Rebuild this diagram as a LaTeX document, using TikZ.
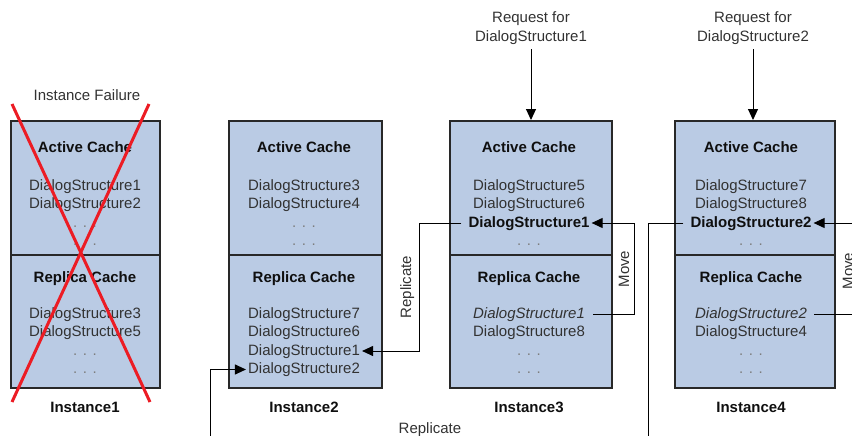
\documentclass[tikz,border=0pt]{standalone}
\usepackage{fontspec}
\setmainfont{Liberation Sans}
\usetikzlibrary{arrows.meta}

\definecolor{cachefill}{RGB}{186,203,228}
\definecolor{boxline}{RGB}{40,40,40}
\definecolor{entrytext}{RGB}{50,50,50}
\definecolor{headtext}{RGB}{15,15,15}
\definecolor{dotgray}{RGB}{125,125,125}
\definecolor{failred}{RGB}{236,28,36}

\newcommand{\entryfont}{\fontsize{15}{18}\selectfont}
\newcommand{\headfont}{\fontsize{15}{18}\selectfont\bfseries}

\tikzset{
  cachebox/.style={draw=boxline, line width=2pt, fill=cachefill, inner sep=0pt,
                   minimum height=267pt},
  divider/.style={draw=boxline, line width=1.5pt},
  entry/.style={font=\entryfont, text=entrytext, anchor=base, inner sep=2pt,
                text height=11pt, text depth=3pt},
  head/.style={entry, font=\headfont, text=headtext},
  dots/.style={entry, text=dotgray},
  plain/.style={entry, text=entrytext},
  link/.style={line width=1pt, draw=black},
  arr/.style={link, -{Triangle[length=11pt,width=10pt]}},
  cross/.style={draw=failred, line width=3pt},
}

\begin{document}
\begin{tikzpicture}[x=1pt, y=-1pt]
\useasboundingbox (0,0) rectangle (852,436);
\begin{scope}
\clip (0,0) rectangle (852,436);

% ---- cache boxes with their active / replica divider ----
\node[cachebox, minimum width=149pt] (box1) at (85.5,254.5) {};
\node[cachebox, minimum width=153pt] (box2) at (305.5,254.5) {};
\node[cachebox, minimum width=162pt] (box3) at (531,254.5) {};
\node[cachebox, minimum width=160pt] (box4) at (755,254.5) {};
\foreach \b in {box1,box2,box3,box4}
  \draw[divider] (\b.west |- 0,255) -- (\b.east |- 0,255);

% ---- Instance1 ----
\node[head] (i1ah) at (85,152) {Active Cache};
\node[plain] (i1a1) at (85,190) {DialogStructure1};
\node[plain] (i1a2) at (85,208.5) {DialogStructure2};
\node[dots]  (i1a3) at (85,227) {. . .};
\node[dots]  (i1a4) at (85,245.5) {. . .};
\node[head] (i1rh) at (85,282) {Replica Cache};
\node[plain] (i1r1) at (85,318) {DialogStructure3};
\node[plain] (i1r2) at (85,336.5) {DialogStructure5};
\node[dots]  (i1r3) at (85,355) {. . .};
\node[dots]  (i1r4) at (85,373.5) {. . .};
\node[head] (i1lab) at (85,412) {Instance1};

% ---- Instance2 ----
\node[head] (i2ah) at (304,152) {Active Cache};
\node[plain] (i2a1) at (304,190) {DialogStructure3};
\node[plain] (i2a2) at (304,208.5) {DialogStructure4};
\node[dots]  (i2a3) at (304,227) {. . .};
\node[dots]  (i2a4) at (304,245.5) {. . .};
\node[head] (i2rh) at (304,282) {Replica Cache};
\node[plain] (i2r1) at (304,318) {DialogStructure7};
\node[plain] (i2r2) at (304,336.5) {DialogStructure6};
\node[plain] (i2r3) at (304,355) {DialogStructure1};
\node[plain] (i2r4) at (304,373.5) {DialogStructure2};
\node[head] (i2lab) at (304,412) {Instance2};

% ---- Instance3 ----
\node[head] (i3ah) at (529,152) {Active Cache};
\node[plain] (i3a1) at (529,190) {DialogStructure5};
\node[plain] (i3a2) at (529,208.5) {DialogStructure6};
\node[head]  (i3a3) at (529,227) {DialogStructure1};
\node[dots]  (i3a4) at (529,245.5) {. . .};
\node[head] (i3rh) at (529,282) {Replica Cache};
\node[plain, font=\entryfont\itshape] (i3r1) at (529,318) {DialogStructure1};
\node[plain] (i3r2) at (529,336.5) {DialogStructure8};
\node[dots]  (i3r3) at (529,355) {. . .};
\node[dots]  (i3r4) at (529,373.5) {. . .};
\node[head] (i3lab) at (529,412) {Instance3};

% ---- Instance4 ----
\node[head] (i4ah) at (751,152) {Active Cache};
\node[plain] (i4a1) at (751,190) {DialogStructure7};
\node[plain] (i4a2) at (751,208.5) {DialogStructure8};
\node[head]  (i4a3) at (751,227) {DialogStructure2};
\node[dots]  (i4a4) at (751,245.5) {. . .};
\node[head] (i4rh) at (751,282) {Replica Cache};
\node[plain, font=\entryfont\itshape] (i4r1) at (751,318) {DialogStructure2};
\node[plain] (i4r2) at (751,336.5) {DialogStructure4};
\node[dots]  (i4r3) at (751,355) {. . .};
\node[dots]  (i4r4) at (751,373.5) {. . .};
\node[head] (i4lab) at (751,412) {Instance4};

% ---- incoming requests ----
\node[plain] (req1a) at (531,23) {Request for};
\node[plain] (req1b) at (531,42) {DialogStructure1};
\node[plain] (req2a) at (753,23) {Request for};
\node[plain] (req2b) at (753,42) {DialogStructure2};
\draw[arr, shorten <=2pt] (req1b.south) -- (req1b.south |- box3.north);
\draw[arr, shorten <=2pt] (req2b.south) -- (req2b.south |- box4.north);

% ---- routing columns ----
\coordinate (repA) at (419,0);
\coordinate (mvA)  at (634,0);
\coordinate (repB) at (648,0);
\coordinate (repC) at (210,0);
\coordinate (mvB)  at (857,0);
\coordinate (low)  at (0,452);

% Instance3 active copy replicated into Instance2
\draw[arr, shorten <=5pt] (i3a3.west) -- (i3a3.west -| repA) -- (i2r3.east -| repA) -- (i2r3.east);
\node[plain, anchor=center, rotate=90] (repAlab) at (407,287) {Replicate};

% Instance3 replica moved to active
\draw[arr, shorten <=6pt] (i3r1.east) -- (i3r1.east -| mvA) -- (i3a3.east -| mvA) -- (i3a3.east);
\node[plain, anchor=center, rotate=90] (mvAlab) at (625,269) {Move};

% Instance4 active copy replicated into Instance2
\draw[arr, shorten <=5pt] (i4a3.west) -- (i4a3.west -| repB) -- (low -| repB) -- (low -| repC)
  -- (i2r4.west -| repC) -- (i2r4.west);
\node[plain] (repBlab) at (430,433) {Replicate};

% Instance4 replica moved to active
\draw[arr, shorten <=5pt] (i4r1.east) -- (i4r1.east -| mvB) -- (i4a3.east -| mvB) -- (i4a3.east);
\node[plain, anchor=center, rotate=90] (mvBlab) at (849,271) {Move};

% ---- failed instance ----
\node[plain] (fail) at (87,100) {Instance Failure};
\coordinate (xa) at (12,104);
\coordinate (xb) at (150,402);
\coordinate (xc) at (149,104);
\coordinate (xd) at (12,402);
\draw[cross] (xa) -- (xb);
\draw[cross] (xc) -- (xd);
\end{scope}
\end{tikzpicture}
\end{document}
